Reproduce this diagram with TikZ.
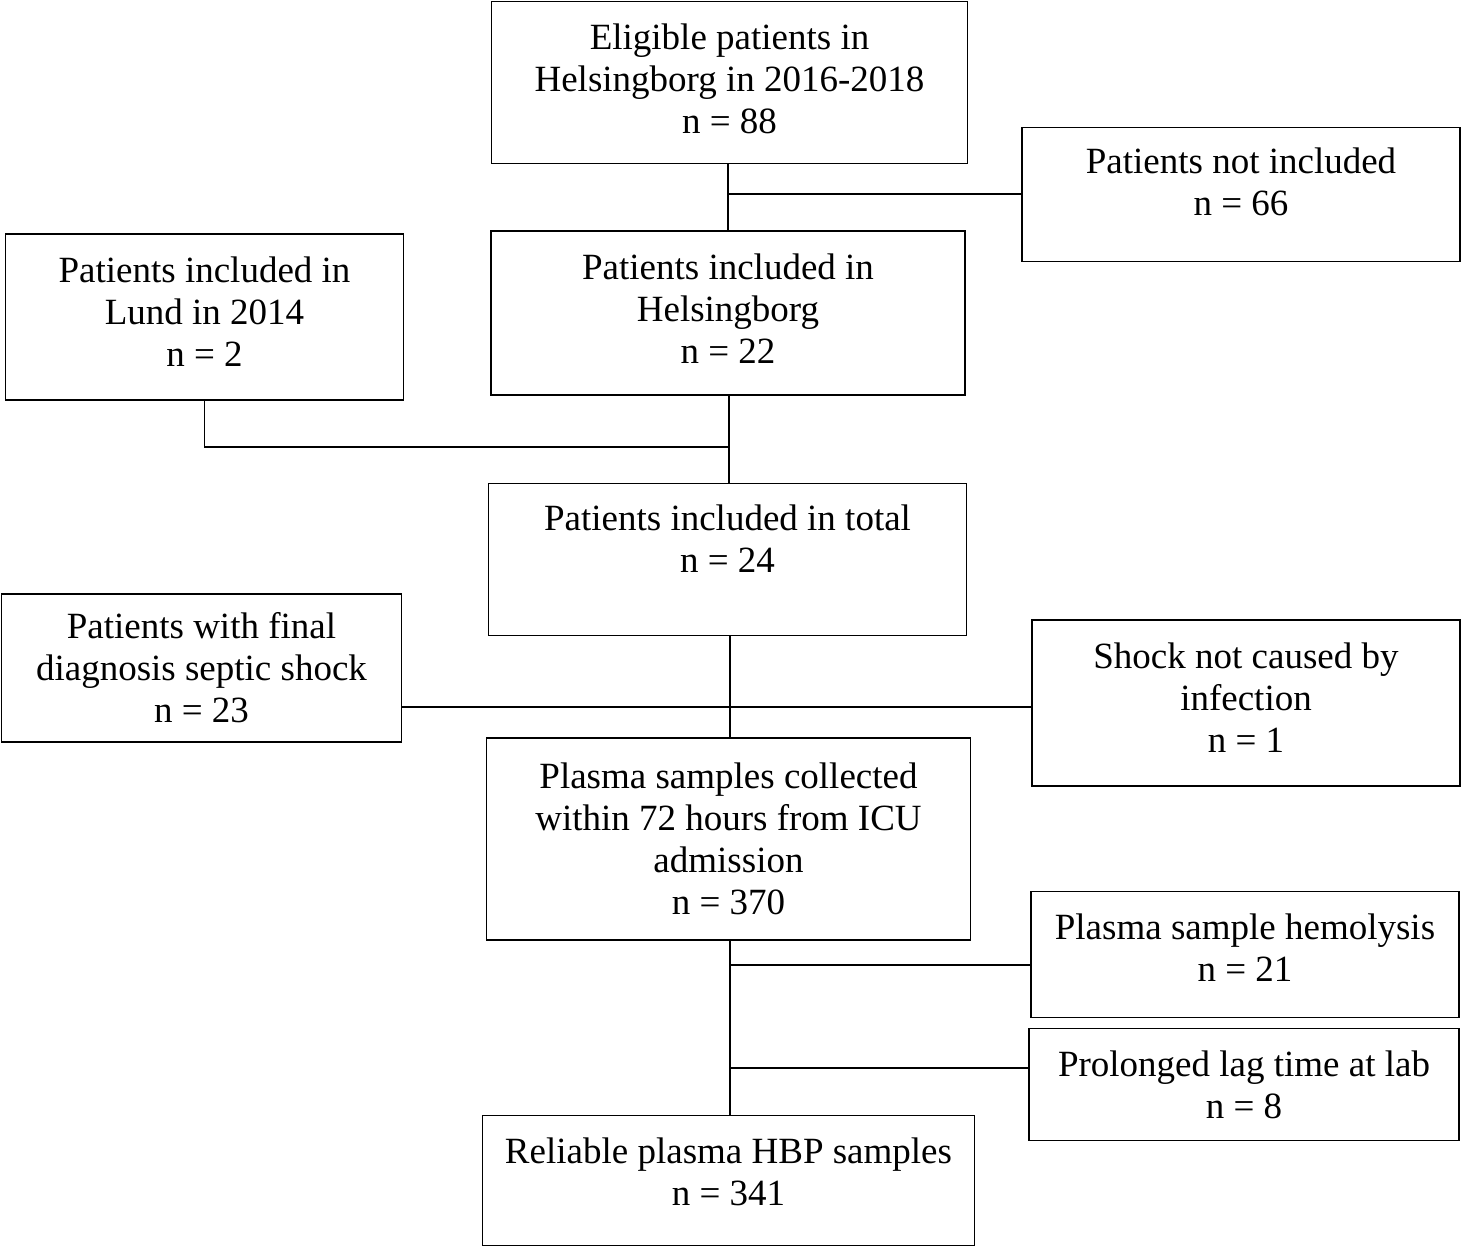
\documentclass[tikz,border=0pt]{standalone}
\usepackage{fontspec}
\setmainfont{Liberation Serif}
\usetikzlibrary{calc}

\begin{document}
\begin{tikzpicture}[x=0.5pt, y=-0.5pt]
    \tikzstyle{every node} = [font=\fontsize{18.5}{21}\selectfont]
    \tikzstyle{box} = [draw, line width=0.8pt, align=center, inner sep=0pt]
    \tikzstyle{link} = [line width=0.8pt]

    \useasboundingbox (0,0) rectangle (1462,1248);

    \node (elig) [box, minimum width=238pt, minimum height=81pt] at (729.5,82.5) {Eligible patients in\\ Helsingborg in 2016-2018\\ n = 88\\[-17pt]};
    \node (notincl) [box, minimum width=219pt, minimum height=67pt] at (1241,194.5) {Patients not included\\ n = 66\\[-8.5pt]};
    \node (lund) [box, minimum width=199pt, minimum height=83pt] at (204.5,317) {Patients included in\\ Lund in 2014\\ n = 2\\[-15.5pt]};
    \node (hbg) [box, minimum width=237pt, minimum height=82pt] at (728,313) {Patients included in\\ Helsingborg\\ n = 22\\[-17pt]};
    \node (total) [box, minimum width=239pt, minimum height=76pt] at (727.5,559.5) {Patients included in total\\ n = 24\\ \mbox{}};
    \node (septic) [box, minimum width=200pt, minimum height=74pt] at (201.5,668) {Patients with final\\ diagnosis septic shock\\ n = 23};
    \node (noinf) [box, minimum width=214pt, minimum height=83pt] at (1246,703) {Shock not caused by\\ infection\\ n = 1\\[-15.5pt]};
    \node (plasma) [box, minimum width=242pt, minimum height=101pt] at (728.5,839) {Plasma samples collected\\ within 72 hours from ICU\\ admission\\ n = 370};
    \node (hemo) [box, minimum width=214pt, minimum height=63pt] at (1245,954.5) {Plasma sample hemolysis\\ n = 21\\[-14pt]};
    \node (lag) [box, minimum width=215pt, minimum height=56pt] at (1244,1084.5) {Prolonged lag time at lab\\ n = 8};
    \node (reliable) [box, minimum width=246pt, minimum height=65pt] at (728.5,1180.5) {Reliable plasma HBP samples\\ n = 341\\[-12.5pt]};

    % junctions on the main line
    \coordinate (j1) at (728,194);
    \coordinate (j2) at (729,447);
    \coordinate (j3) at (730,707);
    \coordinate (j4) at (730,965);
    \coordinate (j5) at (730,1068);

    \draw [link] (j1 |- elig.south) -- (j1 |- hbg.north);
    \draw [link] (j1) -- (j1 -| notincl.west);
    \draw [link] (lund.south) |- (j2);
    \draw [link] (j2 |- hbg.south) -- (j2 |- total.north);
    \draw [link] (j3 |- total.south) -- (j3 |- plasma.north);
    \draw [link] (j3 -| septic.east) -- (j3 -| noinf.west);
    \draw [link] (j4 |- plasma.south) -- (j4 |- reliable.north);
    \draw [link] (j4) -- (j4 -| hemo.west);
    \draw [link] (j5) -- (j5 -| lag.west);
\end{tikzpicture}
\end{document}
